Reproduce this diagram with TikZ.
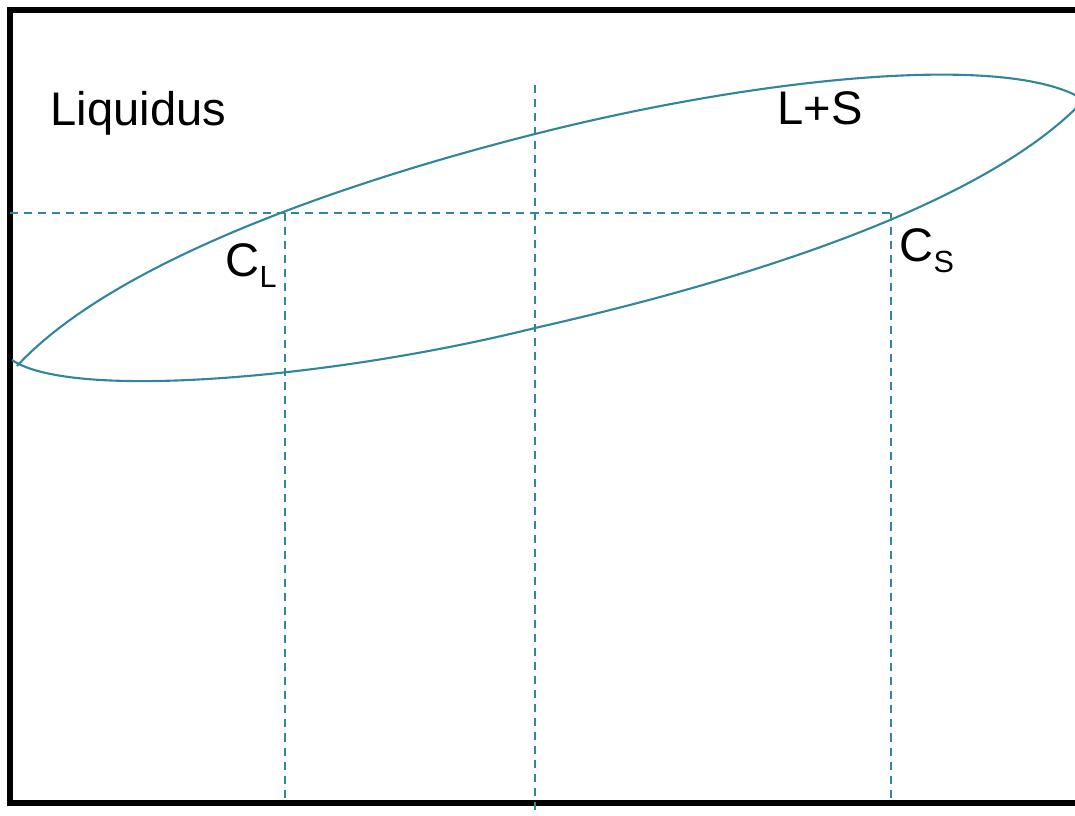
\documentclass[tikz,border=0pt]{standalone}
\usepackage{fontspec}
\setmainfont{Liberation Sans}
\usetikzlibrary{positioning}
\definecolor{lensteal}{HTML}{31859C}
\newcommand{\phasesub}[1]{\raisebox{-3.1pt}{\fontsize{8.7}{10}\selectfont #1}}

\begin{document}
\begin{tikzpicture}[x=0.01cm, y=-0.01cm]
\tikzstyle{phasetext}=[inner sep=0pt, anchor=base west, font=\fontsize{13.4}{16}\selectfont]
\tikzstyle{comptext}=[phasetext]
\tikzstyle{curve}=[draw=lensteal, line width=0.6pt]
\tikzstyle{guide}=[draw=lensteal, line width=0.45pt, dash pattern=on 2.3pt off 1.7pt]

\clip (0,0) rectangle (1075,816);
\coordinate (tl) at (10,10);
\coordinate (br) at (1095,803);
\draw[line width=1.5pt] (tl) rectangle (br);

\coordinate (lefttip) at (17,366);
\coordinate (lowstart) at (12,360);
\coordinate (righttip) at (1084,100);
\coordinate (upmid) at (535,134);
\coordinate (lowmid) at (535,328);
\draw[curve] (lefttip) .. controls (119,256) and (365,177) .. (upmid)
  .. controls (760,77) and (1010,52) .. (righttip);
\draw[curve] (lowstart) .. controls (72,401) and (335,378) .. (lowmid)
  .. controls (800,268) and (1000,190) .. (righttip);

\coordinate (cl) at (285,213);
\coordinate (cs) at (891,213);
\coordinate (edge) at (10,213);
\coordinate (midtop) at (535,85);
\coordinate (midbot) at (535,816);
\draw[guide] (edge) -- (cs);
\draw[guide] (cl) -- (cl |- br);
\draw[guide] (cs) -- (cs |- br);
\draw[guide] (midtop) -- (midbot);

\node[phasetext] (liq) at (50,126) {Liquidus};
\node[phasetext] (ls) at (777,125) {L+S};
\node[comptext] (cltext) at (225,277) {C\phasesub{L}};
\node[comptext] (cstext) at (899,262) {C\phasesub{S}};
\end{tikzpicture}
\end{document}
